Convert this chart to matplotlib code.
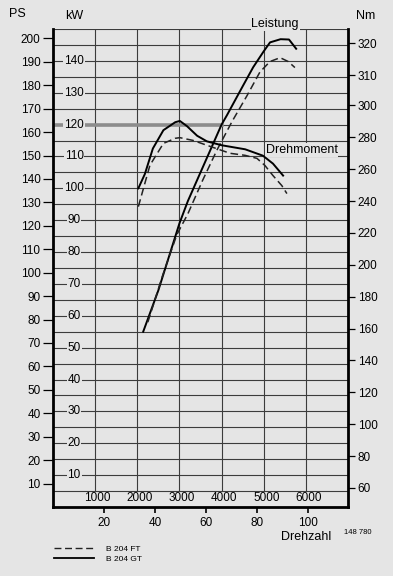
import matplotlib
matplotlib.use("Agg")
import matplotlib.pyplot as plt
from matplotlib.lines import Line2D

plt.rcParams["font.family"] = ["Liberation Sans", "DejaVu Sans"]

# ---- data ----
rpm_ticks = [1000, 2000, 3000, 4000, 5000, 6000]
kmh_ticks = [20, 40, 60, 80, 100]
ps_ticks = list(range(10, 210, 10))
kw_ticks = list(range(10, 150, 10))
nm_ticks = [60, 80, 100, 120, 140, 160, 180, 200, 220, 240, 260, 280, 300, 319, 339]
nm_labels = ["60", "80", "100", "120", "140", "160", "180", "200", "220",
             "240", "260", "280", "300", "310", "320"]

# power (kW) vs rpm
gt_power_rpm = [2140, 2500, 3000, 3200, 3600, 4000, 4130, 4500, 4750, 5000, 5150, 5400, 5600, 5700, 5770]
gt_power_kw = [55, 68, 89, 96, 108, 120, 123, 132, 138, 143, 145.8, 146.8, 146.7, 145, 143.8]
ft_power_rpm = [2250, 2610, 2940, 3200, 3550, 3890, 4250, 4600, 4910, 5150, 5390, 5580, 5740]
ft_power_kw = [58, 73, 85.5, 92, 102.5, 112, 121, 129, 136.5, 139.8, 141, 139.8, 137.9]

# torque (Nm) vs rpm
gt_torque_rpm = [2025, 2180, 2370, 2620, 2900, 3010, 3180, 3420, 3650, 4010, 4560, 4980, 5220, 5460]
gt_torque_nm = [248, 257, 273, 284.5, 289.5, 290.3, 287, 281, 277.5, 275, 272.5, 268.5, 263.5, 256]
ft_torque_rpm = [2025, 2300, 2620, 2900, 3010, 3320, 3730, 4200, 4560, 4840, 5030, 5220, 5430, 5550]
ft_torque_nm = [236.5, 262.5, 276.2, 279.4, 279.8, 278.1, 274.3, 270, 268.7, 266.8, 262.3, 256, 249.7, 244.7]

bg = "#e5e5e5"
grid_c = "#3c3c3c"
W, H = 393, 576

fig = plt.figure(figsize=(W / 100, H / 100), dpi=100)
fig.patch.set_facecolor(bg)
ax = fig.add_axes([53 / W, 1 - 507 / H, (348 - 53) / W, (507 - 29) / H])
ax.set_facecolor(bg)
ax.set_xlim(0, 7000)
ax.set_ylim(0, 150)

# grid: horizontal every 5 kW, vertical every 1000 rpm above the label strip
for k in range(5, 151, 5):
    ax.axhline(k, color=grid_c, lw=0.8, zorder=1)
for r in rpm_ticks:
    ax.plot([r, r], [5, 150], color=grid_c, lw=0.8, zorder=1)
ax.plot([0, 4000], [120, 120], color="#8c8c8c", lw=2.6, zorder=1.5)

for s in ["left", "right", "bottom"]:
    ax.spines[s].set_linewidth(2.0)
ax.spines["top"].set_visible(False)
ax.set_xticks([])
ax.set_yticks([])

# curves
dash = (0, (5, 2.6))
ax.plot(gt_power_rpm, gt_power_kw, color="black", lw=1.4, zorder=3)
ax.plot(ft_power_rpm, ft_power_kw, color="#222222", lw=1.1, ls=dash, zorder=3)

ax2 = ax.twinx()
ax2.set_ylim(48, 348)
ax2.plot(gt_torque_rpm, gt_torque_nm, color="black", lw=1.4, zorder=3)
ax2.plot(ft_torque_rpm, ft_torque_nm, color="#222222", lw=1.1, ls=dash, zorder=3)
for s in ["left", "right", "bottom", "top"]:
    ax2.spines[s].set_visible(False)
ax2.set_yticks(nm_ticks)
ax2.set_yticklabels(nm_labels)
ax2.tick_params(axis="y", direction="out", length=5, width=0.9, pad=2,
                labelsize=8.5, colors="black")

# PS scale on the left
ps = ax.secondary_yaxis("left", functions=(lambda k: k * 1.36, lambda p: p / 1.36))
ps.set_yticks(ps_ticks)
ps.tick_params(direction="out", length=7.5, width=0.9, pad=1.5, labelsize=8.5)
ps.spines["left"].set_visible(False)

# kW labels sit on the grid lines inside the plot
for k in kw_ticks:
    ax.text(500, k, str(k), ha="center", va="center", fontsize=8.5, zorder=4,
            bbox=dict(fc=bg, ec="none", pad=0.6))

# rpm labels inside the bottom strip
for r in rpm_ticks:
    ax.text(r + 60, 2.9, str(r), ha="center", va="center", fontsize=8.5, zorder=4)

# km/h scale below
kmh = ax.secondary_xaxis("bottom", functions=(lambda r: r * 16.55 / 1000, lambda v: v / 16.55 * 1000))
kmh.set_xticks(kmh_ticks)
kmh.tick_params(direction="out", length=4.5, width=1.2, pad=3, labelsize=8.5)
kmh.spines["bottom"].set_visible(False)

# axis titles and curve labels
fig.text(17 / W, 1 - 14 / H, "PS", ha="center", va="center", fontsize=9)
fig.text(74 / W, 1 - 16 / H, "kW", ha="center", va="center", fontsize=9)
fig.text(366 / W, 1 - 16 / H, "Nm", ha="center", va="center", fontsize=9)
ax.text(5270, 151.5, "Leistung", ha="center", va="center", fontsize=9, clip_on=False,
        zorder=4, bbox=dict(fc=bg, ec="none", pad=0.5))
ax.text(5900, 112, "Drehmoment", ha="center", va="center", fontsize=9, zorder=4,
        bbox=dict(fc=bg, ec="none", pad=0.5))
fig.text(306 / W, 1 - 537 / H, "Drehzahl", ha="center", va="center", fontsize=9)
fig.text(358 / W, 1 - 532 / H, "148 780", ha="center", va="center", fontsize=5.5)

# legend
handles = [Line2D([], [], color="#222222", lw=1.0, ls=(0, (5, 2.6))),
           Line2D([], [], color="black", lw=1.3)]
fig.legend(handles, ["B 204 FT", "B 204 GT"], loc="upper left",
           bbox_to_anchor=(50 / W, 1 - 541 / H), frameon=False, fontsize=6,
           handlelength=4.8, handletextpad=1.4, labelspacing=0.25, borderpad=0)

fig.savefig("out.png", dpi=100, facecolor=bg)
